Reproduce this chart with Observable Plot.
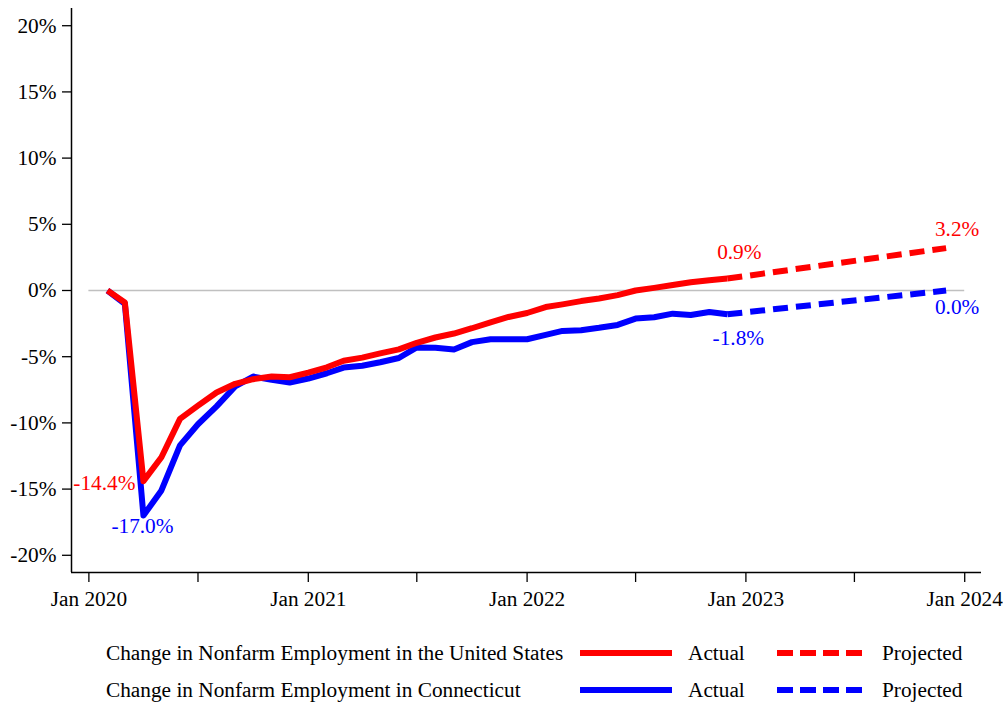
<!DOCTYPE html>
<html><head><meta charset="utf-8">
<script src="https://cdn.jsdelivr.net/npm/d3@7"></script>
<script src="https://cdn.jsdelivr.net/npm/@observablehq/plot@0.6"></script>
<style>
body{margin:0;background:#fff;font-family:"Liberation Serif","Times New Roman",serif;color:#000;}
#legend{position:relative;width:1003px;height:80px;font-size:21.3px;}
#legend .t{position:absolute;line-height:24px;white-space:nowrap;}
#legend svg{position:absolute;}
</style></head><body>
<div id="chart"></div>
<div id="legend"></div>
<script>
// ---- data ----
const months = [
 "2020-02","2020-03","2020-04","2020-05","2020-06","2020-07","2020-08","2020-09","2020-10","2020-11","2020-12",
 "2021-01","2021-02","2021-03","2021-04","2021-05","2021-06","2021-07","2021-08","2021-09","2021-10","2021-11","2021-12",
 "2022-01","2022-02","2022-03","2022-04","2022-05","2022-06","2022-07","2022-08","2022-09","2022-10","2022-11","2022-12"];
const usActual = [0, -0.9, -14.4, -12.6, -9.7, -8.7, -7.7, -7.05, -6.7, -6.5, -6.55,
 -6.2, -5.8, -5.3, -5.07, -4.75, -4.45, -3.95, -3.55, -3.25, -2.85, -2.4, -2.0,
 -1.7, -1.25, -1.05, -0.8, -0.6, -0.35, 0.0, 0.2, 0.42, 0.62, 0.78, 0.9];
const ctActual = [0, -1.0, -17.0, -15.1, -11.7, -10.1, -8.75, -7.25, -6.5, -6.75, -6.95,
 -6.65, -6.25, -5.82, -5.68, -5.42, -5.1, -4.3, -4.33, -4.45, -3.9, -3.68, -3.68,
 -3.68, -3.35, -3.05, -3.0, -2.82, -2.6, -2.12, -2.02, -1.75, -1.85, -1.62, -1.8];
const projMonths = ["2022-12","2023-06","2023-12"];
const usProjected = [0.9, 2.05, 3.2];
const ctProjected = [-1.8, -0.9, 0.0];
const yTicks = [-20, -15, -10, -5, 0, 5, 10, 15, 20];
const xTicks = ["2020-01","2020-07","2021-01","2021-07","2022-01","2022-07","2023-01","2023-07","2024-01"];
const seriesNames = ["Change in Nonfarm Employment in the United States", "Change in Nonfarm Employment in Connecticut"];
const seriesColors = ["#ff0000", "#0000ff"];
const kindNames = ["Actual", "Projected"];

// ---- build ----
const parse = d3.utcParse("%Y-%m");
const rows = (ms, vs) => ms.map((m, i) => ({date: parse(m), value: vs[i]}));
const usA = rows(months, usActual), ctA = rows(months, ctActual);
const usP = rows(projMonths, usProjected), ctP = rows(projMonths, ctProjected);
const fmt = v => v.toFixed(1) + "%";
const FONT = "Liberation Serif, Times New Roman, serif";
const FS = 21.3;
const xDomain = [new Date(Date.UTC(2019, 11, 3)), new Date(Date.UTC(2024, 0, 29))];
const yDomain = [-21.3, 21.3];
const US = seriesColors[0], CT = seriesColors[1];

const usMin = usA[usActual.indexOf(d3.min(usActual))];
const ctMin = ctA[ctActual.indexOf(d3.min(ctActual))];
const usLastA = usA[usA.length - 1], ctLastA = ctA[ctA.length - 1];
const usLastP = usP[usP.length - 1], ctLastP = ctP[ctP.length - 1];
const lab = (d, opts) => Plot.text([d], {x: "date", y: "value", text: d => fmt(d.value), fontSize: FS, ...opts});

const chart = Plot.plot({
  width: 1003, height: 625,
  marginLeft: 71, marginRight: 22, marginTop: 8, marginBottom: 53,
  style: {fontFamily: FONT, fontSize: FS + "px", color: "#000", background: "#fff"},
  x: {type: "utc", domain: xDomain},
  y: {domain: yDomain},
  marks: [
    Plot.ruleY([0], {x1: parse(xTicks[0]), x2: parse(xTicks[xTicks.length - 1]), stroke: "#c0c0c0", strokeWidth: 1.5}),
    Plot.axisY({ticks: yTicks, tickFormat: d => d + "%", tickSize: 9, tickPadding: 6, label: null, fontSize: FS, strokeWidth: 1.3}),
    Plot.axisX({ticks: xTicks.map(parse), tickFormat: d => d.getUTCMonth() === 0 ? "Jan " + d.getUTCFullYear() : "", tickSize: 10, tickPadding: 8, label: null, fontSize: FS, strokeWidth: 1.3}),
    Plot.ruleX([xDomain[0]], {stroke: "#000", strokeWidth: 1.5}),
    Plot.ruleY([yDomain[0]], {stroke: "#000", strokeWidth: 1.5}),
    Plot.line(ctP, {x: "date", y: "value", stroke: CT, strokeWidth: 6, strokeDasharray: "15,8", strokeLinecap: "butt"}),
    Plot.line(usP, {x: "date", y: "value", stroke: US, strokeWidth: 6, strokeDasharray: "15,8", strokeLinecap: "butt"}),
    Plot.line(ctA, {x: "date", y: "value", stroke: CT, strokeWidth: 6, strokeLinecap: "butt"}),
    Plot.line(usA, {x: "date", y: "value", stroke: US, strokeWidth: 6, strokeLinecap: "butt"}),
    lab(usMin, {fill: US, textAnchor: "end", dx: -8, dy: 2}),
    lab(ctMin, {fill: CT, dx: -1, dy: 11}),
    lab(usLastA, {fill: US, dx: 12, dy: -26}),
    lab(ctLastA, {fill: CT, dx: 11, dy: 24}),
    lab(usLastP, {fill: US, dx: 11, dy: -19}),
    lab(ctLastP, {fill: CT, dx: 11, dy: 17})
  ]
});
document.getElementById("chart").appendChild(chart);

// ---- legend ----
const legend = document.getElementById("legend");
const rowsY = [28, 65];
seriesNames.forEach((name, i) => {
  const cy = rowsY[i];
  const add = (txt, left) => {
    const s = document.createElement("span");
    s.className = "t"; s.textContent = txt;
    s.style.left = left + "px"; s.style.top = (cy - 12) + "px";
    legend.appendChild(s);
  };
  add(name, 106);
  add(kindNames[0], 688);
  add(kindNames[1], 882);
  const ns = "http://www.w3.org/2000/svg";
  [[580, 672, null], [777, 862, "16,7"]].forEach(([a, b, dash]) => {
    const svg = document.createElementNS(ns, "svg");
    svg.setAttribute("width", b - a); svg.setAttribute("height", 8);
    svg.style.left = a + "px"; svg.style.top = (cy - 4) + "px";
    const l = document.createElementNS(ns, "line");
    l.setAttribute("x1", 0); l.setAttribute("x2", b - a);
    l.setAttribute("y1", 4); l.setAttribute("y2", 4);
    l.setAttribute("stroke", seriesColors[i]); l.setAttribute("stroke-width", 6);
    if (dash) l.setAttribute("stroke-dasharray", dash);
    svg.appendChild(l);
    legend.appendChild(svg);
  });
});
</script>
</body></html>
